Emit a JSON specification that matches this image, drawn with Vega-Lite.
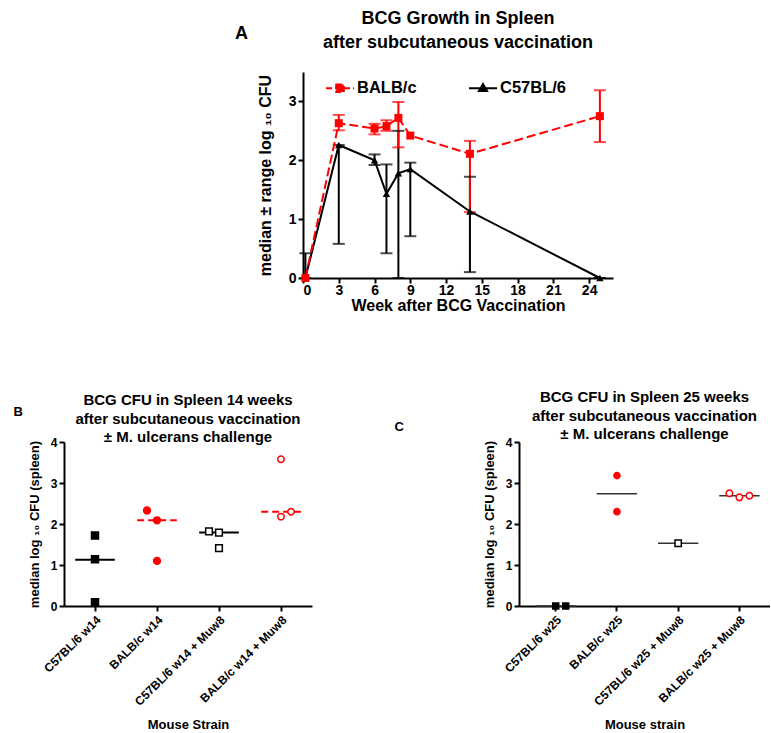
{
  "$schema": "https://vega.github.io/schema/vega-lite/v6.json",
  "padding": {"left": 13, "top": 10, "right": 0, "bottom": 0},
  "background": "white",
  "datasets": {
    "growth": [
      {"strain": "C57BL/6", "week": 0.2, "median": 0, "lo": 0, "hi": 0.42},
      {"strain": "C57BL/6", "week": 3, "median": 2.26, "lo": 0.58, "hi": 2.26},
      {"strain": "C57BL/6", "week": 6, "median": 2.0, "lo": 1.92, "hi": 2.1},
      {"strain": "C57BL/6", "week": 7, "median": 1.43, "lo": 0.42, "hi": 1.93},
      {"strain": "C57BL/6", "week": 8, "median": 1.78, "lo": 0, "hi": 2.5},
      {"strain": "C57BL/6", "week": 9, "median": 1.85, "lo": 0.71, "hi": 1.96},
      {"strain": "C57BL/6", "week": 14, "median": 1.13, "lo": 0.1, "hi": 1.72},
      {"strain": "C57BL/6", "week": 24.9, "median": 0, "lo": 0, "hi": 0},
      {"strain": "BALB/c", "week": 0.2, "median": 0, "lo": null, "hi": null},
      {"strain": "BALB/c", "week": 3, "median": 2.63, "lo": 2.51, "hi": 2.77},
      {"strain": "BALB/c", "week": 6, "median": 2.54, "lo": 2.44, "hi": 2.62},
      {"strain": "BALB/c", "week": 7, "median": 2.58, "lo": 2.5, "hi": 2.68},
      {"strain": "BALB/c", "week": 8, "median": 2.72, "lo": 2.22, "hi": 2.99},
      {"strain": "BALB/c", "week": 9, "median": 2.42, "lo": null, "hi": null},
      {"strain": "BALB/c", "week": 14, "median": 2.11, "lo": 1.12, "hi": 2.33},
      {"strain": "BALB/c", "week": 24.9, "median": 2.75, "lo": 2.31, "hi": 3.19}
    ],
    "b_pts": [
      {"group": "C57BL/6 w14", "value": 1.72, "jit": 0},
      {"group": "C57BL/6 w14", "value": 1.14, "jit": 0},
      {"group": "C57BL/6 w14", "value": 0.09, "jit": 0},
      {"group": "BALB/c w14", "value": 2.33, "jit": -1},
      {"group": "BALB/c w14", "value": 2.09, "jit": 0},
      {"group": "BALB/c w14", "value": 1.1, "jit": 0},
      {"group": "C57BL/6 w14 + Muw8", "value": 1.82, "jit": -1},
      {"group": "C57BL/6 w14 + Muw8", "value": 1.79, "jit": 0},
      {"group": "C57BL/6 w14 + Muw8", "value": 1.41, "jit": 0},
      {"group": "BALB/c w14 + Muw8", "value": 3.58, "jit": 0},
      {"group": "BALB/c w14 + Muw8", "value": 2.18, "jit": 0},
      {"group": "BALB/c w14 + Muw8", "value": 2.3, "jit": 1}
    ],
    "b_med": [
      {"group": "C57BL/6 w14", "median": 1.13},
      {"group": "BALB/c w14", "median": 2.09},
      {"group": "C57BL/6 w14 + Muw8", "median": 1.79},
      {"group": "BALB/c w14 + Muw8", "median": 2.3}
    ],
    "c_pts": [
      {"group": "C57BL/6 w25", "value": 0, "jit": 0},
      {"group": "C57BL/6 w25", "value": 0, "jit": 1},
      {"group": "BALB/c w25", "value": 3.18, "jit": 0},
      {"group": "BALB/c w25", "value": 2.3, "jit": 0},
      {"group": "C57BL/6 w25 + Muw8", "value": 1.53, "jit": 0},
      {"group": "BALB/c w25 + Muw8", "value": 2.75, "jit": -1},
      {"group": "BALB/c w25 + Muw8", "value": 2.65, "jit": 0},
      {"group": "BALB/c w25 + Muw8", "value": 2.69, "jit": 1}
    ],
    "c_med": [
      {"group": "C57BL/6 w25", "median": 0},
      {"group": "BALB/c w25", "median": 2.74},
      {"group": "C57BL/6 w25 + Muw8", "median": 1.53},
      {"group": "BALB/c w25 + Muw8", "median": 2.69}
    ]
  },
  "spacing": 73,
  "resolve": {
    "scale": {"color": "independent", "shape": "independent", "size": "independent", "strokeDash": "independent", "fill": "independent", "stroke": "independent", "xOffset": "independent"},
    "legend": {"color": "independent", "shape": "independent", "size": "independent", "strokeDash": "independent", "fill": "independent", "stroke": "independent"}
  },
  "vconcat": [
    {
      "spacing": 9,
      "resolve": {
        "scale": {"color": "independent"},
        "legend": {"color": "independent"}
      },
      "hconcat": [
        {
          "width": 184,
          "height": 245,
          "data": {"values": [{}]},
          "mark": {"type": "point", "opacity": 0},
          "encoding": {},
          "title": {"text": "A", "anchor": "end", "fontSize": 18, "offset": 0, "dy": -29}
        },
        {
          "width": 310,
          "height": 206,
          "data": {"name": "growth"},
          "title": {"text": ["BCG Growth in Spleen", "after subcutaneous vaccination"], "fontSize": 18, "lineHeight": 24, "offset": 20},
          "encoding": {
            "x": {
              "field": "week", "type": "quantitative",
              "scale": {"domain": [0, 26], "nice": false},
              "axis": {"values": [0, 3, 6, 9, 12, 15, 18, 21, 24], "format": "d", "title": "Week after BCG Vaccination", "labelFontSize": 14, "titleFontSize": 16, "tickSize": 5, "labelPadding": 0, "titlePadding": 0}
            },
            "color": {
              "field": "strain", "type": "nominal",
              "scale": {"domain": ["BALB/c", "C57BL/6"], "range": ["#ff0000", "#000000"]},
              "legend": {
                "orient": "none", "legendX": 22, "legendY": 1, "direction": "horizontal", "title": null,
                "labelFontSize": 16.5, "labelFontWeight": "bold", "labelColor": "#000000", "labelOffset": 2,
                "symbolSize": 784, "symbolStrokeWidth": 2, "columnPadding": 48,
                "encode": {
                  "symbols": {
                    "update": {
                      "shape": {"signal": "datum.value === 'BALB/c' ? 'M-1,0H1M-0.27,-0.27H0.27V0.27H-0.27Z' : 'M-1,0H1M0,-0.3L0.29,0.2H-0.29Z'"},
                      "fill": {"signal": "datum.value === 'BALB/c' ? '#ff0000' : '#000000'"},
                      "stroke": {"signal": "datum.value === 'BALB/c' ? '#ff0000' : '#000000'"},
                      "strokeDash": {"signal": "datum.value === 'BALB/c' ? [6,3] : [1,0]"},
                      "size": {"value": 784},
                      "opacity": {"value": 1},
                      "fillOpacity": {"value": 1},
                      "strokeWidth": {"value": 2}
                    }
                  }
                }
              }
            }
          },
          "layer": [
            {
              "mark": {"type": "rule", "strokeWidth": 2},
              "encoding": {
                "y": {"field": "lo", "type": "quantitative", "title": "median ± range log ₁₀ CFU",
                  "scale": {"domain": [0, 3.5], "nice": false},
                  "axis": {"values": [0, 1, 2, 3], "format": "d", "labelFontSize": 14, "titleFontSize": 16, "tickSize": 5, "labelPadding": 2, "titlePadding": 15}},
                "y2": {"field": "hi"}
              }
            },
            {
              "mark": {"type": "tick", "orient": "horizontal", "size": 12, "thickness": 2},
              "encoding": {"y": {"field": "lo", "type": "quantitative", "title": "median ± range log ₁₀ CFU"}}
            },
            {
              "mark": {"type": "tick", "orient": "horizontal", "size": 12, "thickness": 2},
              "encoding": {"y": {"field": "hi", "type": "quantitative", "title": "median ± range log ₁₀ CFU"}}
            },
            {
              "transform": [{"filter": "datum.strain === 'C57BL/6'"}],
              "mark": {"type": "line", "strokeWidth": 2},
              "encoding": {"y": {"field": "median", "type": "quantitative", "title": "median ± range log ₁₀ CFU"}}
            },
            {
              "transform": [{"filter": "datum.strain === 'BALB/c'"}],
              "mark": {"type": "line", "strokeWidth": 2, "strokeDash": [9, 4]},
              "encoding": {"y": {"field": "median", "type": "quantitative", "title": "median ± range log ₁₀ CFU"}}
            },
            {
              "transform": [{"filter": "datum.strain === 'C57BL/6'"}],
              "mark": {"type": "point", "filled": true, "opacity": 1, "shape": "triangle-up", "size": 55},
              "encoding": {"y": {"field": "median", "type": "quantitative", "title": "median ± range log ₁₀ CFU"}}
            },
            {
              "transform": [{"filter": "datum.strain === 'BALB/c'"}],
              "mark": {"type": "point", "filled": true, "opacity": 1, "shape": "square", "size": 64},
              "encoding": {"y": {"field": "median", "type": "quantitative", "title": "median ± range log ₁₀ CFU"}}
            }
          ]
        }
      ]
    },
    {
      "spacing": 207,
      "bounds": "flush",
      "resolve": {
        "scale": {"color": "independent", "shape": "independent", "size": "independent", "strokeDash": "independent", "fill": "independent", "stroke": "independent", "xOffset": "independent"},
        "legend": {"color": "independent", "shape": "independent", "size": "independent", "strokeDash": "independent", "fill": "independent", "stroke": "independent"}
      },
      "hconcat": [
        {
          "width": 248,
          "height": 164,
          "title": {"text": ["BCG CFU in Spleen 14 weeks", "after subcutaneous vaccination", "± M. ulcerans  challenge"], "fontSize": 15, "lineHeight": 18.5, "offset": -40},
          "resolve": {"axis": {"x": "independent"}},
          "layer": [
            {
              "data": {"name": "b_med"},
              "mark": {"type": "rule", "strokeWidth": 2},
              "encoding": {
                "x": {"field": "group", "type": "nominal", "sort": null, "bandPosition": 0.18,
                  "scale": {"type": "band", "domain": ["C57BL/6 w14", "BALB/c w14", "C57BL/6 w14 + Muw8", "BALB/c w14 + Muw8"], "paddingInner": 0, "paddingOuter": 0},
                  "axis": {"title": "Mouse Strain", "labelAngle": -45, "labelFontSize": 12, "titleFontSize": 13, "tickSize": 5, "labelPadding": 3, "titlePadding": 11, "bandPosition": 0.5}},
                "x2": {"field": "group", "bandPosition": 0.82},
                "y": {"field": "median", "type": "quantitative", "title": "median log ₁₀ CFU (spleen)",
                  "scale": {"domain": [0, 4], "nice": false},
                  "axis": {"values": [0, 1, 2, 3, 4], "format": "d", "labelFontSize": 12, "titleFontSize": 13, "tickSize": 5, "labelPadding": 2, "titlePadding": 9}},
                "color": {"field": "group", "type": "nominal", "scale": {"domain": ["C57BL/6 w14", "BALB/c w14", "C57BL/6 w14 + Muw8", "BALB/c w14 + Muw8"], "range": ["#000000", "#ff0000", "#000000", "#ff0000"]}, "legend": null},
                "strokeDash": {"field": "group", "type": "nominal", "scale": {"domain": ["C57BL/6 w14", "BALB/c w14", "C57BL/6 w14 + Muw8", "BALB/c w14 + Muw8"], "range": [[1, 0], [7, 4], [1, 0], [7, 4]]}, "legend": null}
              }
            },
            {
              "data": {"name": "b_pts"},
              "mark": {"type": "point", "strokeWidth": 1.5, "opacity": 1, "fillOpacity": 1},
              "encoding": {
                "x": {"field": "group", "type": "nominal", "sort": null,
                  "axis": {"orient": "top", "domain": false, "ticks": false, "labels": false, "title": "B", "titleX": -51, "titleY": -31, "titleAlign": "left", "titleBaseline": "middle", "titleFontSize": 13, "titleAngle": 0}},
                "xOffset": {"field": "jit", "type": "quantitative", "scale": {"domain": [-1, 1], "range": [21, 41]}},
                "y": {"field": "value", "type": "quantitative", "title": "median log ₁₀ CFU (spleen)"},
                "shape": {"field": "group", "type": "nominal", "scale": {"domain": ["C57BL/6 w14", "BALB/c w14", "C57BL/6 w14 + Muw8", "BALB/c w14 + Muw8"], "range": ["square", "circle", "square", "circle"]}, "legend": null},
                "fill": {"field": "group", "type": "nominal", "scale": {"domain": ["C57BL/6 w14", "BALB/c w14", "C57BL/6 w14 + Muw8", "BALB/c w14 + Muw8"], "range": ["#000000", "#ff0000", "#ffffff", "#ffffff"]}, "legend": null},
                "stroke": {"field": "group", "type": "nominal", "scale": {"domain": ["C57BL/6 w14", "BALB/c w14", "C57BL/6 w14 + Muw8", "BALB/c w14 + Muw8"], "range": ["#000000", "#ff0000", "#000000", "#ff0000"]}, "legend": null},
                "size": {"field": "group", "type": "ordinal", "scale": {"domain": ["C57BL/6 w14", "BALB/c w14", "C57BL/6 w14 + Muw8", "BALB/c w14 + Muw8"], "range": [49, 42, 50, 30]}, "legend": null}
              }
            }
          ]
        },
        {
          "width": 251,
          "height": 164,
          "title": {"text": ["BCG CFU in Spleen 25 weeks", "after subcutaneous vaccination", "± M. ulcerans  challenge"], "fontSize": 15, "lineHeight": 18.5, "offset": -22},
          "resolve": {"axis": {"x": "independent"}},
          "layer": [
            {
              "data": {"name": "c_med"},
              "mark": {"type": "rule", "strokeWidth": 1.5, "color": "#333333"},
              "encoding": {
                "x": {"field": "group", "type": "nominal", "sort": null, "bandPosition": 0.17,
                  "scale": {"type": "band", "domain": ["C57BL/6 w25", "BALB/c w25", "C57BL/6 w25 + Muw8", "BALB/c w25 + Muw8"], "paddingInner": 0, "paddingOuter": 0.05, "align": 1},
                  "axis": {"title": "Mouse strain", "labelAngle": -45, "labelFontSize": 12, "titleFontSize": 13, "tickSize": 5, "labelPadding": 3, "titlePadding": 11, "bandPosition": 0.5}},
                "x2": {"field": "group", "bandPosition": 0.83},
                "y": {"field": "median", "type": "quantitative", "title": "median log ₁₀ CFU (spleen)",
                  "scale": {"domain": [0, 4], "nice": false},
                  "axis": {"values": [0, 1, 2, 3, 4], "format": "d", "labelFontSize": 12, "titleFontSize": 13, "tickSize": 5, "labelPadding": 2, "titlePadding": 9}}
              }
            },
            {
              "data": {"name": "c_pts"},
              "mark": {"type": "point", "strokeWidth": 1.5, "opacity": 1, "fillOpacity": 1},
              "encoding": {
                "x": {"field": "group", "type": "nominal", "sort": null,
                  "axis": {"orient": "top", "domain": false, "ticks": false, "labels": false, "title": "C", "titleX": -125, "titleY": -16, "titleAlign": "left", "titleBaseline": "middle", "titleFontSize": 13, "titleAngle": 0}},
                "xOffset": {"field": "jit", "type": "quantitative", "scale": {"domain": [-1, 1], "range": [20.6, 40.6]}},
                "y": {"field": "value", "type": "quantitative", "title": "median log ₁₀ CFU (spleen)"},
                "shape": {"field": "group", "type": "nominal", "scale": {"domain": ["C57BL/6 w25", "BALB/c w25", "C57BL/6 w25 + Muw8", "BALB/c w25 + Muw8"], "range": ["square", "circle", "square", "circle"]}, "legend": null},
                "fill": {"field": "group", "type": "nominal", "scale": {"domain": ["C57BL/6 w25", "BALB/c w25", "C57BL/6 w25 + Muw8", "BALB/c w25 + Muw8"], "range": ["#000000", "#ff0000", "#ffffff", "#ffffff"]}, "legend": null},
                "stroke": {"field": "group", "type": "nominal", "scale": {"domain": ["C57BL/6 w25", "BALB/c w25", "C57BL/6 w25 + Muw8", "BALB/c w25 + Muw8"], "range": ["#000000", "#ff0000", "#000000", "#ff0000"]}, "legend": null},
                "size": {"field": "group", "type": "ordinal", "scale": {"domain": ["C57BL/6 w25", "BALB/c w25", "C57BL/6 w25 + Muw8", "BALB/c w25 + Muw8"], "range": [36, 42, 55, 30]}, "legend": null}
              }
            }
          ]
        }
      ]
    }
  ],
  "config": {
    "view": {"stroke": null},
    "font": "Liberation Sans",
    "axis": {
      "grid": false,
      "domainColor": "#000000", "domainWidth": 2,
      "tickColor": "#000000", "tickWidth": 2,
      "labelColor": "#000000", "labelFontWeight": "bold", "labelFont": "Liberation Sans",
      "titleColor": "#000000", "titleFontWeight": "bold", "titleFont": "Liberation Sans"
    },
    "title": {"fontWeight": "bold", "color": "#000000", "font": "Liberation Sans"}
  }
}
